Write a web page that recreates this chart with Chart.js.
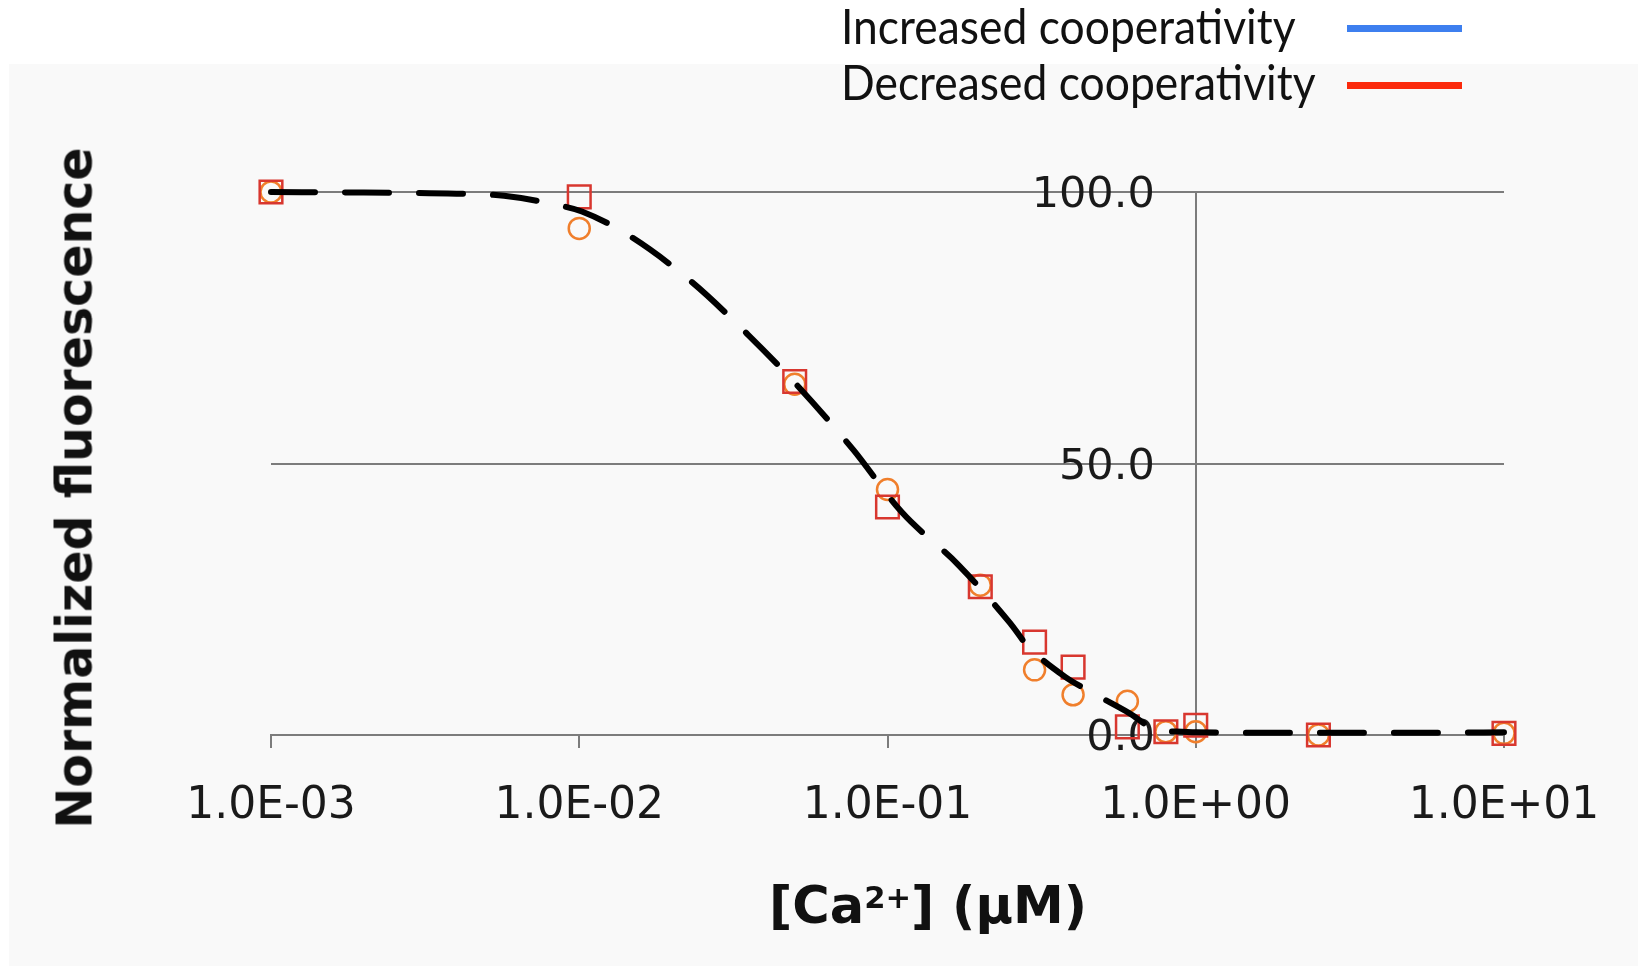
<!DOCTYPE html>
<html>
<head>
<meta charset="utf-8">
<script src="https://cdn.jsdelivr.net/npm/chart.js@4.4.1/dist/chart.umd.min.js"></script>
<style>
  html, body { margin: 0; padding: 0; background: #ffffff; }
  #wrap { position: relative; width: 1638px; height: 966px; overflow: hidden; background: #ffffff; }
  #bg { position: absolute; left: 9px; top: 64px; right: 0; bottom: 0; background: #f9f9f9; }
  #c { position: absolute; left: 0; top: 0; }
  .leg { position: absolute; left: 841px; font-family: Lato, "Open Sans", sans-serif; font-size: 48px; line-height: 48px; color: #111; white-space: nowrap; transform: scaleX(0.925); transform-origin: left center; }
  .legline { position: absolute; left: 1347px; width: 115px; height: 7px; }
  #ytitle { position: absolute; left: 75px; top: 488px; transform: translate(-50%, -50%) rotate(-90deg); font-family: "DejaVu Sans", sans-serif; font-weight: bold; font-size: 49px; line-height: 49px; color: #111; white-space: nowrap; }
  #xtitle { position: absolute; left: 928px; top: 880px; transform: translateX(-50%); font-family: "DejaVu Sans", sans-serif; font-weight: bold; font-size: 51px; line-height: 51px; color: #111; white-space: nowrap; }
  #xtitle .sup { font-size: 0.6em; position: relative; top: -0.5em; }
</style>
</head>
<body>
<div id="wrap">
  <div id="bg"></div>
  <canvas id="c" width="1638" height="966"></canvas>
  <div class="leg" style="top:2px;">Increased cooperativity</div>
  <div class="legline" style="top:25px;background:#3d7fef;"></div>
  <div class="leg" style="top:58px;">Decreased cooperativity</div>
  <div class="legline" style="top:82px;background:#fb2a0c;"></div>
  <div id="ytitle">Normalized fluorescence</div>
  <div id="xtitle">[Ca<span class="sup">2+</span>] (μM)</div>
</div>
<script>
// ---- data ----
const concentrations = [0.001, 0.01, 0.05, 0.1, 0.2, 0.3, 0.4, 0.6, 0.8, 1.0, 2.5, 10];
const squareValues = [100, 99.1, 65.1, 42.0, 27.3, 17.1, 12.5, 1.5, 0.6, 1.8, 0.0, 0.3];
const circleValues = [100, 93.3, 64.6, 45.2, 27.6, 12.0, 7.4, 6.2, 0.6, 0.6, 0.0, 0.3];
const fitX = [0.001, 0.002, 0.004, 0.0057, 0.0085, 0.0102, 0.0144, 0.0231, 0.0353, 0.0507, 0.0775, 0.111, 0.17, 0.25, 0.283, 0.377, 0.454, 0.61, 0.75, 0.9, 1.0, 2.0, 5.0, 10];
const fitY = [100, 99.9, 99.7, 99.3, 97.6, 96.4, 92.1, 83.5, 73.7, 64.5, 52.5, 41.1, 31.3, 20.6, 16.6, 10.7, 8.0, 4.0, 0.9, 0.6, 0.5, 0.4, 0.4, 0.5];
const xTickValues = [0.001, 0.01, 0.1, 1, 10];
const xTickLabels = ['1.0E-03', '1.0E-02', '1.0E-01', '1.0E+00', '1.0E+01'];
const yTickValues = [0, 50, 100];
const yTickLabels = ['0.0', '50.0', '100.0'];

const toPoints = (xs, ys) => xs.map((x, i) => ({ x: x, y: ys[i] }));

const axisGray = '#7c7c7c';

new Chart(document.getElementById('c'), {
  type: 'scatter',
  data: {
    datasets: [
      {
        label: 'Fit',
        type: 'line',
        data: toPoints(fitX, fitY),
        borderColor: '#000000',
        borderWidth: 6,
        borderDash: [44, 30],
        borderCapStyle: 'round',
        pointRadius: 0,
        fill: false,
        cubicInterpolationMode: 'monotone',
        order: 0,
        clip: false
      },
      {
        label: 'Decreased cooperativity',
        data: toPoints(concentrations, squareValues),
        pointStyle: 'rect',
        pointRadius: 16,
        borderColor: '#d8372f',
        borderWidth: 2.5,
        backgroundColor: 'rgba(0,0,0,0)',
        order: 1,
        clip: false
      },
      {
        label: 'Increased cooperativity',
        data: toPoints(concentrations, circleValues),
        pointStyle: 'circle',
        pointRadius: 10.5,
        borderColor: '#f07f2c',
        borderWidth: 2.5,
        backgroundColor: 'rgba(0,0,0,0)',
        order: 2,
        clip: false
      }
    ]
  },
  options: {
    responsive: false,
    devicePixelRatio: 1,
    animation: false,
    layout: { padding: { left: 271, right: 134, top: 192, bottom: 0 } },
    plugins: { legend: { display: false }, tooltip: { enabled: false } },
    scales: {
      x: {
        type: 'logarithmic',
        position: 'bottom',
        min: 0.001,
        max: 10,
        afterBuildTicks: (s) => { s.ticks = xTickValues.map(v => ({ value: v })); },
        afterFit: (s) => { s.height = 231; },
        border: { display: true, color: axisGray, width: 2 },
        grid: { drawOnChartArea: false, drawTicks: true, tickLength: 13, color: axisGray, lineWidth: 2 },
        ticks: {
          autoSkip: false, maxRotation: 0, minRotation: 0, padding: 32,
          color: '#1a1a1a', font: { family: 'DejaVu Sans', size: 44 },
          callback: (v) => { const i = xTickValues.findIndex(t => Math.abs(t - v) < v * 1e-6); return i >= 0 ? xTickLabels[i] : ''; }
        }
      },
      y: {
        type: 'linear',
        position: { x: 1 },
        min: 0,
        max: 100,
        afterBuildTicks: (s) => { s.ticks = yTickValues.map(v => ({ value: v })); },
        border: { display: true, color: axisGray, width: 2 },
        grid: { drawOnChartArea: true, drawTicks: true, tickLength: 13, color: axisGray, lineWidth: 2 },
        ticks: {
          padding: 30, labelOffset: 4, color: '#1a1a1a', font: { family: 'DejaVu Sans', size: 43 },
          callback: (v) => { const i = yTickValues.indexOf(v); return i >= 0 ? yTickLabels[i] + '   ' : ''; }
        }
      }
    }
  }
});
</script>
</body>
</html>
